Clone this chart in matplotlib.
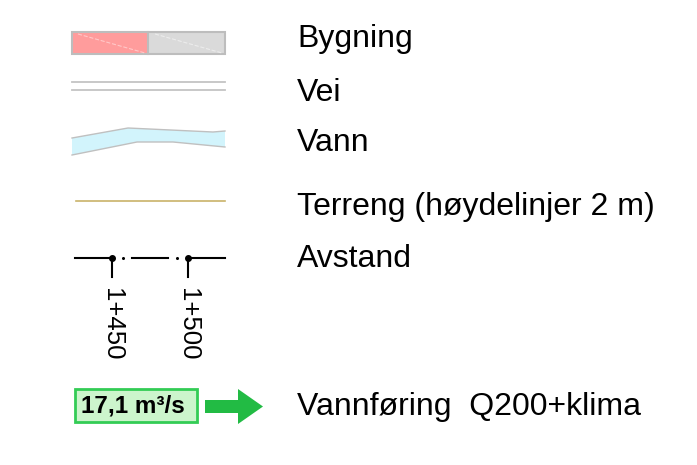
import matplotlib.pyplot as plt
from matplotlib.patches import Rectangle, Polygon, FancyArrow

plt.rcParams['font.family'] = ['Liberation Sans', 'DejaVu Sans']

# legend entries (label, text baseline in pixels)
labels = ['Bygning', 'Vei', 'Vann', 'Terreng (høydelinjer 2 m)', 'Avstand', 'Vannføring  Q200+klima']
label_y = [47, 101, 151, 215, 267, 415]

# profile stations
stations = ['1+450', '1+500']
station_x = [112, 188]

# water symbol outline
vann_top_x = [72, 128, 213, 225]
vann_top_y = [138, 128, 132, 131]
vann_bot_x = [72, 137, 173, 225]
vann_bot_y = [155, 142, 142, 147]

flow_text = '17,1 m³/s'

fig = plt.figure(figsize=(6.97, 4.65), dpi=100)
ax = fig.add_axes([0, 0, 1, 1])
ax.set_xlim(0, 697)
ax.set_ylim(465, 0)
ax.axis('off')

# Bygning
ax.add_patch(Rectangle((72, 32), 76, 22, facecolor='#ff9c9c', edgecolor='none'))
ax.add_patch(Rectangle((148, 32), 77, 22, facecolor='#dadada', edgecolor='none'))
ax.plot([78, 145], [34, 53], color='#ffc8c8', lw=0.8, ls='--')
ax.plot([155, 222], [34, 53], color='#ececec', lw=0.8, ls='--')
ax.add_patch(Rectangle((72, 32), 153, 22, facecolor='none', edgecolor='#bdbdbd', lw=1.5))
ax.plot([148, 148], [32, 54], color='#bdbdbd', lw=1.5)

# Vei
for y in [82, 90]:
    ax.plot([72, 225], [y, y], color='#c4c4c4', lw=1.3)

# Vann
pts = list(zip(vann_top_x, vann_top_y)) + list(zip(vann_bot_x[::-1], vann_bot_y[::-1]))
ax.add_patch(Polygon(pts, closed=True, facecolor='#d2f4fc', edgecolor='none'))
ax.plot(vann_top_x, vann_top_y, color='#c0c0c0', lw=1.0)
ax.plot(vann_bot_x, vann_bot_y, color='#c0c0c0', lw=1.0)

# Terreng
ax.plot([76, 225], [201, 201], color='#c9b36a', lw=1.2)

# Avstand
ax.plot([75, 112], [258, 258], color='black', lw=1.5)
ax.plot([132, 168], [258, 258], color='black', lw=1.5)
ax.plot([188, 225], [258, 258], color='black', lw=1.5)
ax.plot([123, 177], [258, 258], 'o', color='black', ms=1.2)
for x, s in zip(station_x, stations):
    ax.plot([x, x], [258, 277], color='black', lw=1.5)
    ax.plot(x, 258, 'o', color='black', ms=4)
    ax.text(x, 288, s, rotation=-90, ha='center', va='top', fontsize=18.5)

# Vannføring
ax.add_patch(Rectangle((75, 389), 122, 33, facecolor='#ccf5cc', edgecolor='#33cc55', lw=2))
ax.text(133, 406, flow_text, ha='center', va='center', fontsize=17.5, fontweight='bold')
ax.add_patch(FancyArrow(205, 406.5, 58, 0, width=13, head_width=35, head_length=25,
                        length_includes_head=True, color='#22bb44', lw=0))

for s, y in zip(labels, label_y):
    ax.text(297, y, s, ha='left', va='baseline', fontsize=23)

fig.savefig('out.png', dpi=100)
